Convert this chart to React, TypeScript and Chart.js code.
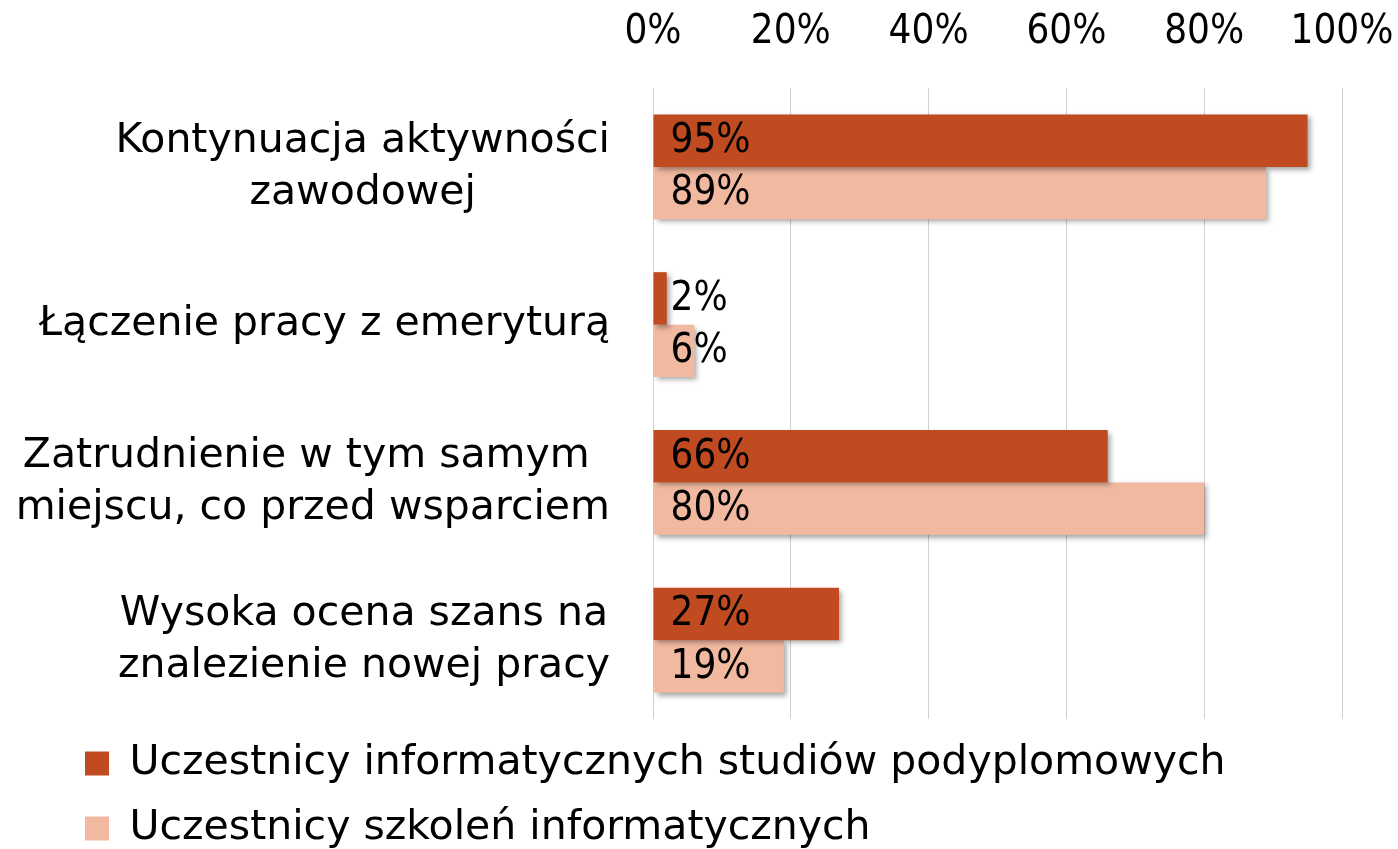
import React, { useEffect, useRef } from "react";
import { Chart, registerables } from "chart.js";

Chart.register(...registerables);

const categories: string[][] = [
  ["Kontynuacja aktywności", "zawodowej"],
  ["Łączenie pracy z emeryturą"],
  ["Zatrudnienie w tym samym ", "miejscu, co przed wsparciem"],
  ["Wysoka ocena szans na", "znalezienie nowej pracy"],
];
const seriesNames = [
  "Uczestnicy informatycznych studiów podyplomowych",
  "Uczestnicy szkoleń informatycznych",
];
const postgradValues = [95, 2, 66, 27];
const trainingValues = [89, 6, 80, 19];
const seriesColors = ["#C14B21", "#F1B9A0"];

const W = 1398;
const H = 859;
const TEXT_FONT = "'DejaVu Sans', sans-serif";
const NUM_FONT = "'DejaVu Sans Condensed', 'DejaVu Sans', sans-serif";

const shadowPlugin = {
  id: "barShadow",
  beforeDatasetsDraw(chart: any) {
    const ctx = chart.ctx;
    ctx.save();
    ctx.shadowColor = "rgba(0,0,0,0.35)";
    ctx.shadowOffsetX = 3;
    ctx.shadowOffsetY = 3;
    ctx.shadowBlur = 5;
  },
  afterDatasetsDraw(chart: any) {
    chart.ctx.restore();
  },
};

const labelsPlugin = {
  id: "customLabels",
  afterDraw(chart: any) {
    const ctx = chart.ctx;
    ctx.save();
    ctx.font = `40px ${NUM_FONT}`;
    ctx.fillStyle = "#000";
    ctx.textAlign = "left";
    ctx.textBaseline = "middle";
    chart.data.datasets.forEach((ds: any, di: number) => {
      const meta = chart.getDatasetMeta(di);
      meta.data.forEach((el: any, i: number) => {
        ctx.fillText(ds.data[i] + "%", el.base + 17, el.y + 1);
      });
    });
    const yScale = chart.scales.y;
    ctx.font = `41px ${TEXT_FONT}`;
    ctx.textAlign = "center";
    const rightEdge = chart.chartArea.left - 43;
    const lh = 52;
    categories.forEach((lines, i) => {
      const y = yScale.getPixelForTick(i);
      const maxW = Math.max(...lines.map((l) => ctx.measureText(l).width));
      const cx = rightEdge - maxW / 2;
      const startY = y - ((lines.length - 1) * lh) / 2;
      lines.forEach((l, j) => {
        ctx.fillText(l, cx, startY + j * lh);
      });
    });
    ctx.restore();
  },
};

export default function App() {
  const ref = useRef<HTMLCanvasElement>(null);
  useEffect(() => {
    const chart = new Chart(ref.current!, {
      type: "bar",
      data: {
        labels: categories.map((c) => c.join(" ").trim()),
        datasets: [
          {
            label: seriesNames[0],
            data: postgradValues,
            backgroundColor: seriesColors[0],
            borderWidth: 0,
            categoryPercentage: 0.665,
            barPercentage: 1,
          },
          {
            label: seriesNames[1],
            data: trainingValues,
            backgroundColor: seriesColors[1],
            borderWidth: 0,
            categoryPercentage: 0.665,
            barPercentage: 1,
          },
        ],
      },
      options: {
        indexAxis: "y",
        responsive: false,
        animation: false,
        devicePixelRatio: 1,
        layout: { padding: { top: -22, left: 61, right: 56, bottom: 0 } },
        scales: {
          x: {
            position: "top",
            min: 0,
            max: 100,
            ticks: {
              stepSize: 20,
              callback: (v: any) => v + "%",
              color: "#000",
              padding: 31,
              maxRotation: 0,
              font: { family: NUM_FONT, size: 40 },
            },
            grid: { color: "#d0d0d0", lineWidth: 1, drawTicks: false },
            border: { display: false },
            afterFit: (s: any) => {
              s.paddingRight = 0;
              s.paddingLeft = 0;
            },
          },
          y: {
            ticks: { display: false },
            grid: { display: false },
            border: { display: false },
            afterFit: (s: any) => {
              s.width = 592;
            },
          },
        },
        plugins: {
          legend: {
            position: "bottom",
            align: "start",
            labels: {
              boxWidth: 24,
              boxHeight: 24,
              padding: 24,
              color: "#000",
              font: { family: TEXT_FONT, size: 41 },
              sort: (a: any, b: any) => a.datasetIndex - b.datasetIndex,
            },
          },
          tooltip: { enabled: false },
        },
      } as any,
      plugins: [shadowPlugin, labelsPlugin],
    });
    return () => chart.destroy();
  }, []);
  return (
    <div
      style={{
        position: "absolute",
        left: 0,
        top: 0,
        width: 1398,
        height: 849,
        overflow: "hidden",
        background: "#fff",
      }}
    >
      <canvas ref={ref} width={W} height={H} style={{ display: "block" }} />
    </div>
  );
}
